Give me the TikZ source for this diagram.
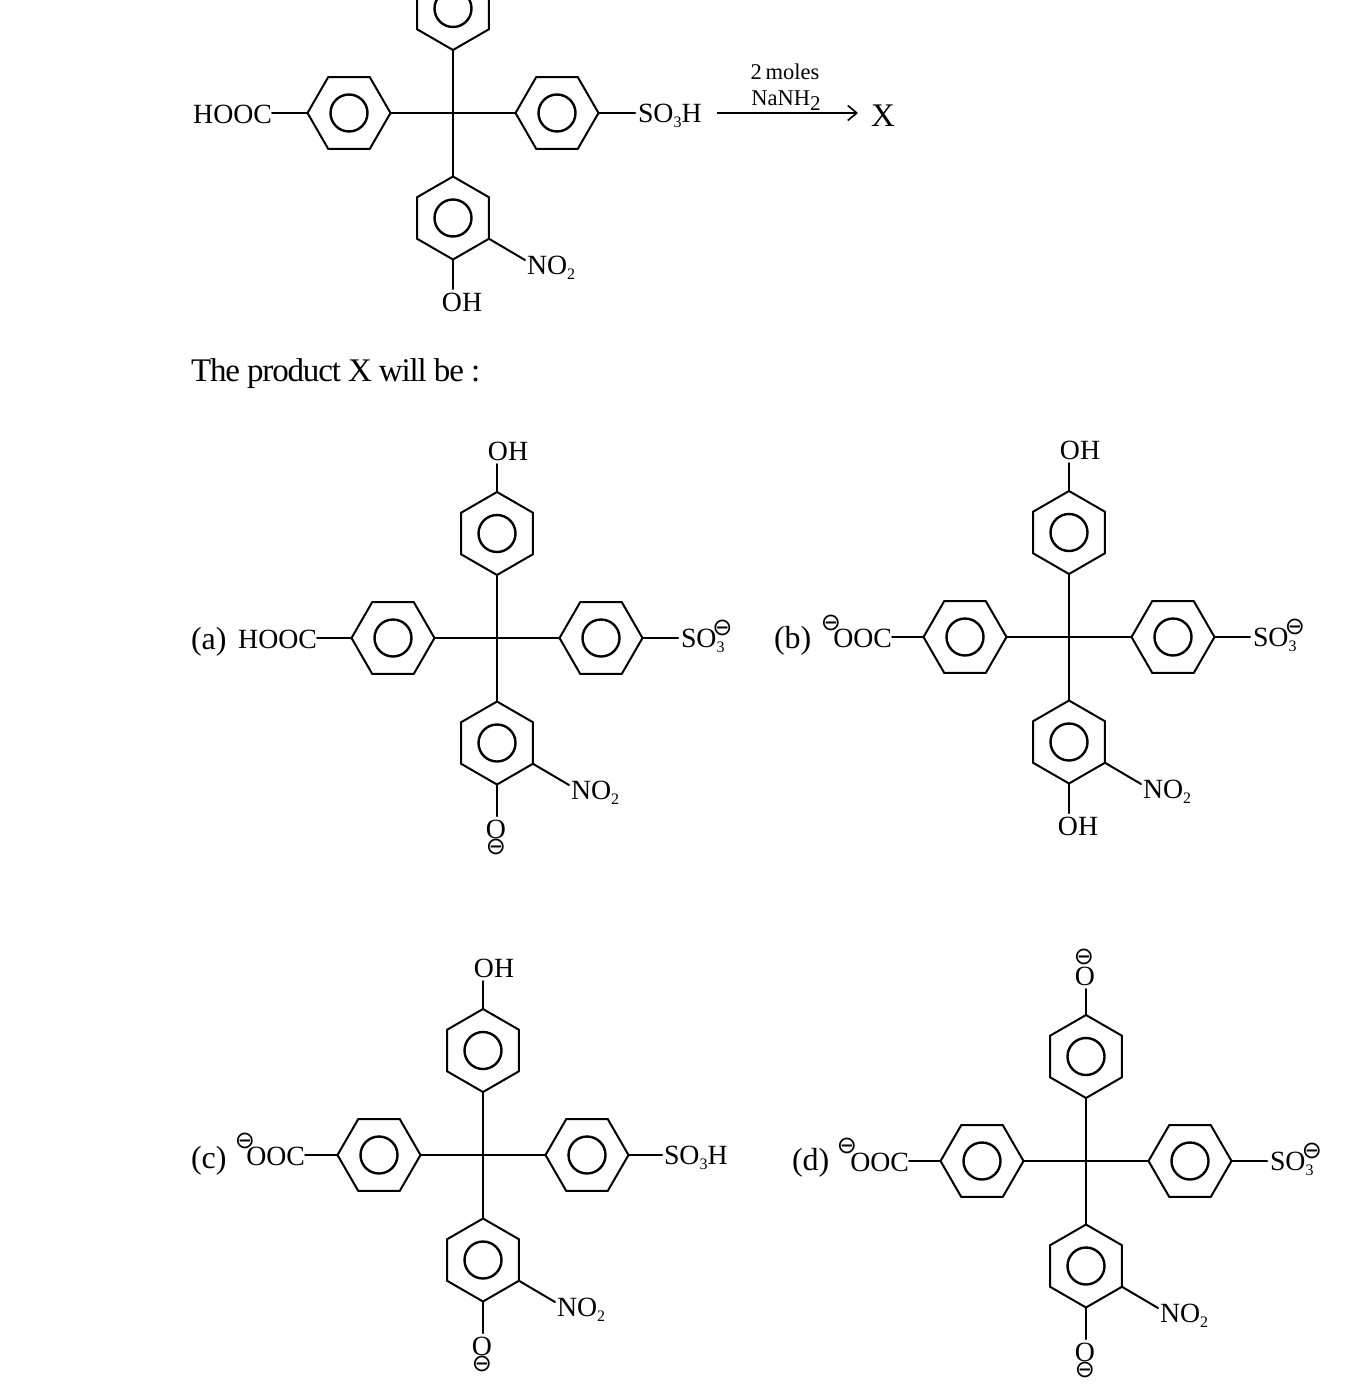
\documentclass[tikz,border=0pt]{standalone}
\usepackage{fontspec}
\setmainfont{Liberation Serif}
\newfontfamily\symfont{DejaVu Sans}
\usetikzlibrary{shapes.geometric,arrows.meta}
\newcommand{\chemsub}[1]{\raisebox{-5pt}{\fontsize{16}{16}\selectfont #1}}
\tikzset{
  bond/.style={line width=2pt,line cap=round},
  ringbase/.style={regular polygon,regular polygon sides=6,draw,line width=2pt,minimum size=83pt,inner sep=0pt,outer sep=0pt},
  vring/.style={ringbase,shape border rotate=30},
  hring/.style={ringbase},
  inner/.style={circle,draw,line width=2.4pt,minimum size=37pt,inner sep=0pt,outer sep=0pt},
  chem/.style={font=\fontsize{27.8}{27.8}\selectfont,inner sep=0pt,outer sep=0pt},
  label/.style={font=\fontsize{32}{32}\selectfont,inner sep=0pt,outer sep=0pt},
  minus/.style={font=\symfont\fontsize{24}{24}\selectfont,inner sep=0pt,outer sep=0pt},
}
\newcommand{\rings}{%
  \node[vring] (T) at (0,-104.5) {};
  \node[inner] (Ti) at (0,-104.5) {};
  \node[vring] (B) at (0,105) {};
  \node[inner] (Bi) at (0,105) {};
  \node[hring] (L) at (-104,0) {};
  \node[inner] (Li) at (-104,0) {};
  \node[hring] (R) at (104,0) {};
  \node[inner] (Ri) at (104,0) {};
  \draw[bond] (L.corner 6) -- (R.corner 3);
  \draw[bond] (T.corner 4) -- (B.corner 1);
  \coordinate (nob) at (72,147);
  \draw[bond] (B.corner 5) -- (nob);
  \node[chem,anchor=base west] (no) at (74,161) {NO\chemsub{2}};
}
% #1 = x of the text's right end, #2 = text
\newcommand{\leftlab}[2]{%
  \node[chem,anchor=base east] (lab) at (#1,10) {#2};
  \draw[bond] (L.corner 3) -- (L.corner 3 -| lab.east);
}
% #1 = x of the text's left end, #2 = x of bond end, #3 = text
\newcommand{\rightlab}[3]{%
  \node[chem,anchor=base west] (rab) at (#1,9) {#3};
  \coordinate (rend) at (#2,0);
  \draw[bond] (R.corner 6) -- (rend);
}
\newcommand{\topOH}{%
  \node[chem,anchor=base] (oh) at (11,-178) {OH};
  \coordinate (tend) at (0,-174);
  \draw[bond] (T.corner 1) -- (tend);
}
\newcommand{\topO}{%
  \node[chem,anchor=base] (oh) at (-1,-176) {O};
  \node[minus] (om) at (-2,-204) {⊖};
  \coordinate (tend) at (0,-172);
  \draw[bond] (T.corner 1) -- (tend);
}
\newcommand{\botOH}{%
  \node[chem,anchor=base] (oh) at (9,198) {OH};
  \coordinate (bend) at (0,176);
  \draw[bond] (B.corner 4) -- (bend);
}
\newcommand{\botO}{%
  \node[chem,anchor=base] (oh) at (-1,200) {O};
  \node[minus] (om) at (-1,209) {⊖};
  \coordinate (bend) at (0,178);
  \draw[bond] (B.corner 4) -- (bend);
}
\begin{document}
\begin{tikzpicture}[x=1pt,y=-1pt]
\clip (0,0) rectangle (1359,1389);
\fill[white] (0,0) rectangle (1359,1389);
% reactant
\begin{scope}[shift={(453,113)},name prefix=s-]
  \rings \leftlab{-181}{HOOC} \rightlab{185}{182}{SO\chemsub{3}H} \botOH
\end{scope}
\coordinate (arrA) at (717,113);
\coordinate (arrB) at (858,113);
\draw[line width=1.6pt,-{Straight Barb[length=9pt,width=15pt]}] (arrA) -- (arrB);
\node[inner sep=0pt,anchor=base,font=\fontsize{22.5}{22.5}\selectfont] (moles) at (785,80) {2\,moles};
\node[inner sep=0pt,anchor=base,font=\fontsize{22.5}{22.5}\selectfont] (nanh) at (786,105) {NaNH\raisebox{-5pt}{\fontsize{21}{21}\selectfont 2}};
\node[inner sep=0pt,anchor=base west,font=\fontsize{33}{33}\selectfont] (x) at (871,126) {X};
\node[label,anchor=base west,font=\addfontfeature{LetterSpace=-3.5}\fontsize{33}{33}\selectfont] (q) at (191,381) {The product X will be :};
% (a)
\node[label,anchor=base west] (la) at (191,649) {(a)};
\begin{scope}[shift={(497,638)},name prefix=a-]
  \rings \leftlab{-180}{HOOC} \rightlab{184}{181}{SO\chemsub{3}} \topOH \botO
  \node[minus] (sm) at (225.5,-10.5) {⊖};
\end{scope}
% (b)
\node[label,anchor=base west] (lb) at (774,648) {(b)};
\begin{scope}[shift={(1069,637)},name prefix=b-]
  \rings \leftlab{-177}{OOC} \rightlab{184}{181}{SO\chemsub{3}} \topOH \botOH
  \node[minus] (sm) at (226,-10.5) {⊖};
  \node[minus] (lm) at (-238,-14) {⊖};
\end{scope}
% (c)
\node[label,anchor=base west] (lc) at (191,1168) {(c)};
\begin{scope}[shift={(483,1155)},name prefix=c-]
  \rings \leftlab{-178}{OOC} \rightlab{181}{179}{SO\chemsub{3}H} \topOH \botO
  \node[minus] (lm) at (-238,-14) {⊖};
\end{scope}
% (d)
\node[label,anchor=base west] (ld) at (792,1170) {(d)};
\begin{scope}[shift={(1086,1161)},name prefix=d-]
  \rings \leftlab{-177}{OOC} \rightlab{184}{181}{SO\chemsub{3}} \topO \botO
  \node[minus] (sm) at (226,-10.5) {⊖};
  \node[minus] (lm) at (-239,-15) {⊖};
\end{scope}
\end{tikzpicture}
\end{document}
